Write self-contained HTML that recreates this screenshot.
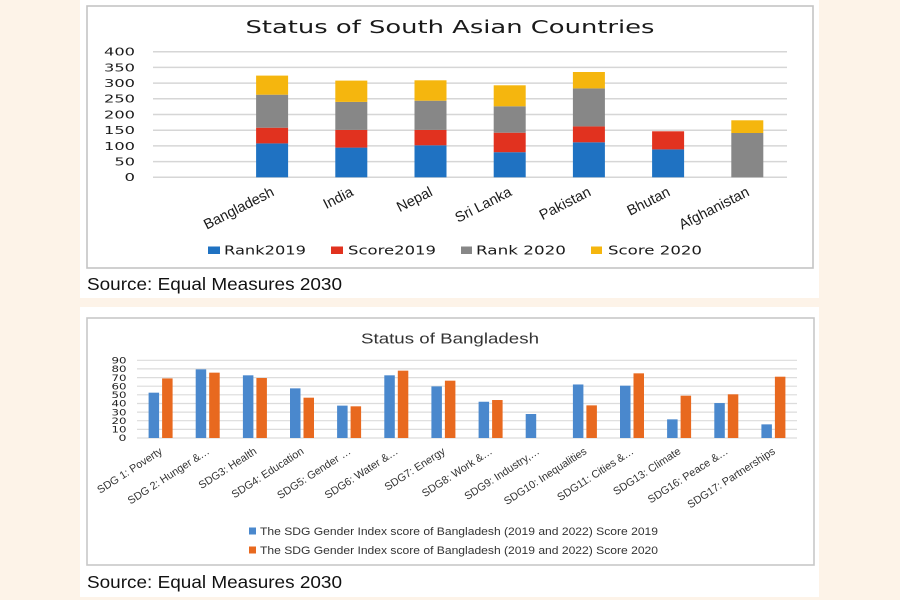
<!DOCTYPE html>
<html>
<head>
<meta charset="utf-8">
<style>
html,body{margin:0;padding:0;background:#fdf3e8;}
svg{display:block;}
</style>
</head>
<body>
<svg width="900" height="600" viewBox="0 0 900 600" xmlns="http://www.w3.org/2000/svg">
  <rect x="0" y="0" width="900" height="600" fill="#fdf3e8"/>
  <!-- cards -->
  <rect x="80" y="0" width="739" height="298" fill="#ffffff"/>
  <rect x="80" y="307" width="739" height="290" fill="#ffffff"/>

  <!-- ============ TOP CHART ============ -->
  <rect x="87" y="6" width="726" height="262" fill="#ffffff" stroke="#c4c4c4" stroke-width="1.6"/>
  <text x="450" y="33" text-anchor="middle" font-family="DejaVu Sans, sans-serif" font-size="17.5" fill="#1a1a1a" textLength="409" lengthAdjust="spacingAndGlyphs">Status of South Asian Countries</text>

  <g stroke="#d6d6d6" stroke-width="1.5">
    <line x1="153" y1="177.3" x2="787" y2="177.3"/>
    <line x1="153" y1="161.6" x2="787" y2="161.6"/>
    <line x1="153" y1="145.9" x2="787" y2="145.9"/>
    <line x1="153" y1="130.2" x2="787" y2="130.2"/>
    <line x1="153" y1="114.5" x2="787" y2="114.5"/>
    <line x1="153" y1="98.8" x2="787" y2="98.8"/>
    <line x1="153" y1="83.1" x2="787" y2="83.1"/>
    <line x1="153" y1="67.4" x2="787" y2="67.4"/>
    <line x1="153" y1="51.7" x2="787" y2="51.7"/>
  </g>
  <g font-family="DejaVu Sans, sans-serif" font-size="10.5" fill="#1a1a1a" text-anchor="end">
    <text x="135" y="181.2" textLength="10.5" lengthAdjust="spacingAndGlyphs">0</text>
    <text x="135" y="165.5" textLength="20.5" lengthAdjust="spacingAndGlyphs">50</text>
    <text x="135" y="149.8" textLength="31" lengthAdjust="spacingAndGlyphs">100</text>
    <text x="135" y="134.1" textLength="31" lengthAdjust="spacingAndGlyphs">150</text>
    <text x="135" y="118.4" textLength="31" lengthAdjust="spacingAndGlyphs">200</text>
    <text x="135" y="102.7" textLength="31" lengthAdjust="spacingAndGlyphs">250</text>
    <text x="135" y="87.0" textLength="31" lengthAdjust="spacingAndGlyphs">300</text>
    <text x="135" y="71.3" textLength="31" lengthAdjust="spacingAndGlyphs">350</text>
    <text x="135" y="55.6" textLength="31" lengthAdjust="spacingAndGlyphs">400</text>
  </g>

  <!-- stacked bars -->
  <g>
    <!-- Bangladesh c=272.1 -->
    <rect x="256.1" y="143.4" width="32" height="33.9" fill="#1f72c2"/>
    <rect x="256.1" y="127.7" width="32" height="15.7" fill="#e1321f"/>
    <rect x="256.1" y="94.7" width="32" height="33.0" fill="#878787"/>
    <rect x="256.1" y="75.6" width="32" height="19.1" fill="#f5b60e"/>
    <!-- India c=351.3 -->
    <rect x="335.3" y="147.6" width="32" height="29.7" fill="#1f72c2"/>
    <rect x="335.3" y="129.9" width="32" height="17.7" fill="#e1321f"/>
    <rect x="335.3" y="101.9" width="32" height="28.0" fill="#878787"/>
    <rect x="335.3" y="80.6" width="32" height="21.3" fill="#f5b60e"/>
    <!-- Nepal c=430.5 -->
    <rect x="414.5" y="145.3" width="32" height="32.0" fill="#1f72c2"/>
    <rect x="414.5" y="129.9" width="32" height="15.4" fill="#e1321f"/>
    <rect x="414.5" y="100.7" width="32" height="29.2" fill="#878787"/>
    <rect x="414.5" y="80.3" width="32" height="20.4" fill="#f5b60e"/>
    <!-- Sri Lanka c=509.7 -->
    <rect x="493.7" y="152.2" width="32" height="25.1" fill="#1f72c2"/>
    <rect x="493.7" y="132.7" width="32" height="19.5" fill="#e1321f"/>
    <rect x="493.7" y="106.3" width="32" height="26.4" fill="#878787"/>
    <rect x="493.7" y="85.3" width="32" height="21.0" fill="#f5b60e"/>
    <!-- Pakistan c=588.9 -->
    <rect x="572.9" y="142.3" width="32" height="35.0" fill="#1f72c2"/>
    <rect x="572.9" y="126.4" width="32" height="15.9" fill="#e1321f"/>
    <rect x="572.9" y="88.4" width="32" height="38.0" fill="#878787"/>
    <rect x="572.9" y="72.0" width="32" height="16.4" fill="#f5b60e"/>
    <!-- Bhutan c=668.1 -->
    <rect x="652.1" y="149.4" width="32" height="27.9" fill="#1f72c2"/>
    <rect x="652.1" y="131.3" width="32" height="18.1" fill="#e1321f"/>
    <!-- Afghanistan c=747.3 -->
    <rect x="731.3" y="133.0" width="32" height="44.3" fill="#878787"/>
    <rect x="731.3" y="120.3" width="32" height="12.7" fill="#f5b60e"/>
  </g>

  <!-- top x labels -->
  <g font-family="Liberation Sans, sans-serif" font-size="14.5" fill="#1a1a1a" text-anchor="end">
    <text transform="translate(275,195) rotate(-27)">Bangladesh</text>
    <text transform="translate(354.3,195) rotate(-27)">India</text>
    <text transform="translate(433.5,195) rotate(-27)">Nepal</text>
    <text transform="translate(512.7,195) rotate(-27)">Sri Lanka</text>
    <text transform="translate(591.9,195) rotate(-27)">Pakistan</text>
    <text transform="translate(671.1,195) rotate(-27)">Bhutan</text>
    <text transform="translate(750.3,195) rotate(-27)">Afghanistan</text>
  </g>

  <!-- top legend -->
  <g font-family="DejaVu Sans, sans-serif" font-size="12" fill="#1a1a1a">
    <rect x="208" y="246.5" width="12" height="7.5" fill="#1f72c2"/>
    <text x="224" y="254.5" textLength="82" lengthAdjust="spacingAndGlyphs">Rank2019</text>
    <rect x="331" y="246.5" width="12" height="7.5" fill="#e1321f"/>
    <text x="348" y="254.5" textLength="88" lengthAdjust="spacingAndGlyphs">Score2019</text>
    <rect x="461" y="246.5" width="11" height="7.5" fill="#878787"/>
    <text x="476" y="254.5" textLength="90" lengthAdjust="spacingAndGlyphs">Rank 2020</text>
    <rect x="591" y="246.5" width="11" height="7.5" fill="#f5b60e"/>
    <text x="608" y="254.5" textLength="94" lengthAdjust="spacingAndGlyphs">Score 2020</text>
  </g>

  <text x="87" y="290" font-family="Liberation Sans, sans-serif" font-size="17.5" fill="#111" textLength="255" lengthAdjust="spacingAndGlyphs">Source: Equal Measures 2030</text>

  <!-- ============ BOTTOM CHART ============ -->
  <rect x="87" y="318" width="727" height="247" fill="#ffffff" stroke="#c8c8c8" stroke-width="1.6"/>
  <text x="450" y="343.3" text-anchor="middle" font-family="Liberation Sans, sans-serif" font-size="15" fill="#333" textLength="178" lengthAdjust="spacingAndGlyphs">Status of Bangladesh</text>

  <g stroke="#dcdcdc" stroke-width="1.2">
    <line x1="137" y1="438" x2="797" y2="438"/>
    <line x1="137" y1="429.4" x2="797" y2="429.4"/>
    <line x1="137" y1="420.7" x2="797" y2="420.7"/>
    <line x1="137" y1="412.1" x2="797" y2="412.1"/>
    <line x1="137" y1="403.5" x2="797" y2="403.5"/>
    <line x1="137" y1="394.8" x2="797" y2="394.8"/>
    <line x1="137" y1="386.2" x2="797" y2="386.2"/>
    <line x1="137" y1="377.6" x2="797" y2="377.6"/>
    <line x1="137" y1="368.9" x2="797" y2="368.9"/>
    <line x1="137" y1="360.3" x2="797" y2="360.3"/>
  </g>
  <g font-family="DejaVu Sans, sans-serif" font-size="9" fill="#222" text-anchor="end">
    <text x="126.5" y="441.2" textLength="8" lengthAdjust="spacingAndGlyphs">0</text>
    <text x="126.5" y="432.6" textLength="15" lengthAdjust="spacingAndGlyphs">10</text>
    <text x="126.5" y="423.9" textLength="15" lengthAdjust="spacingAndGlyphs">20</text>
    <text x="126.5" y="415.3" textLength="15" lengthAdjust="spacingAndGlyphs">30</text>
    <text x="126.5" y="406.7" textLength="15" lengthAdjust="spacingAndGlyphs">40</text>
    <text x="126.5" y="398.0" textLength="15" lengthAdjust="spacingAndGlyphs">50</text>
    <text x="126.5" y="389.4" textLength="15" lengthAdjust="spacingAndGlyphs">60</text>
    <text x="126.5" y="380.8" textLength="15" lengthAdjust="spacingAndGlyphs">70</text>
    <text x="126.5" y="372.1" textLength="15" lengthAdjust="spacingAndGlyphs">80</text>
    <text x="126.5" y="363.5" textLength="15" lengthAdjust="spacingAndGlyphs">90</text>
  </g>

  <!-- grouped bars: y-flipped coordinate system -->
  <g transform="translate(0,438) scale(1,-0.8633)">
    <g fill="#4a88cd">
      <rect x="148.6" y="0" width="10.5" height="52.5"/>
      <rect x="195.7" y="0" width="10.5" height="79.5"/>
      <rect x="242.9" y="0" width="10.5" height="72.6"/>
      <rect x="290.0" y="0" width="10.5" height="57.5"/>
      <rect x="337.1" y="0" width="10.5" height="37.5"/>
      <rect x="384.3" y="0" width="10.5" height="72.6"/>
      <rect x="431.4" y="0" width="10.5" height="59.8"/>
      <rect x="478.6" y="0" width="10.5" height="42"/>
      <rect x="525.7" y="0" width="10.5" height="27.8"/>
      <rect x="572.9" y="0" width="10.5" height="62"/>
      <rect x="620.0" y="0" width="10.5" height="60.6"/>
      <rect x="667.1" y="0" width="10.5" height="21.6"/>
      <rect x="714.3" y="0" width="10.5" height="40.5"/>
      <rect x="761.4" y="0" width="10.5" height="15.8"/>
    </g>
    <g fill="#e8691f">
      <rect x="162.1" y="0" width="10.5" height="69"/>
      <rect x="209.2" y="0" width="10.5" height="75.7"/>
      <rect x="256.4" y="0" width="10.5" height="69.5"/>
      <rect x="303.5" y="0" width="10.5" height="46.7"/>
      <rect x="350.6" y="0" width="10.5" height="36.7"/>
      <rect x="397.8" y="0" width="10.5" height="78"/>
      <rect x="444.9" y="0" width="10.5" height="66.4"/>
      <rect x="492.1" y="0" width="10.5" height="44"/>
      <rect x="586.4" y="0" width="10.5" height="37.8"/>
      <rect x="633.5" y="0" width="10.5" height="74.9"/>
      <rect x="680.6" y="0" width="10.5" height="49"/>
      <rect x="727.8" y="0" width="10.5" height="50.6"/>
      <rect x="774.9" y="0" width="10.5" height="71"/>
    </g>
  </g>

  <!-- bottom x labels -->
  <g font-family="Liberation Sans, sans-serif" font-size="10.8" fill="#333" text-anchor="end">
    <text transform="translate(163.1,453) rotate(-33)">SDG 1: Poverty</text>
    <text transform="translate(210.2,453) rotate(-33)">SDG 2: Hunger &amp;…</text>
    <text transform="translate(257.4,453) rotate(-33)">SDG3: Health</text>
    <text transform="translate(304.5,453) rotate(-33)">SDG4: Education</text>
    <text transform="translate(351.6,453) rotate(-33)">SDG5: Gender …</text>
    <text transform="translate(398.8,453) rotate(-33)">SDG6: Water &amp;…</text>
    <text transform="translate(445.9,453) rotate(-33)">SDG7: Energy</text>
    <text transform="translate(493.1,453) rotate(-33)">SDG8: Work &amp;…</text>
    <text transform="translate(540.2,453) rotate(-33)">SDG9: Industry,…</text>
    <text transform="translate(587.4,453) rotate(-33)">SDG10: Inequalities</text>
    <text transform="translate(634.5,453) rotate(-33)">SDG11: Cities &amp;…</text>
    <text transform="translate(681.6,453) rotate(-33)">SDG13: Climate</text>
    <text transform="translate(728.8,453) rotate(-33)">SDG16: Peace &amp;…</text>
    <text transform="translate(775.9,453) rotate(-33)">SDG17: Partnerships</text>
  </g>

  <!-- bottom legend -->
  <g font-family="Liberation Sans, sans-serif" font-size="11" fill="#333">
    <rect x="249" y="527.5" width="7" height="7" fill="#4a88cd"/>
    <text x="260" y="535" textLength="398" lengthAdjust="spacingAndGlyphs">The SDG Gender Index score of Bangladesh (2019 and 2022) Score 2019</text>
    <rect x="249" y="546.5" width="7" height="7" fill="#e8691f"/>
    <text x="260" y="554" textLength="398" lengthAdjust="spacingAndGlyphs">The SDG Gender Index score of Bangladesh (2019 and 2022) Score 2020</text>
  </g>

  <text x="87" y="588" font-family="Liberation Sans, sans-serif" font-size="17.5" fill="#111" textLength="255" lengthAdjust="spacingAndGlyphs">Source: Equal Measures 2030</text>
</svg>
</body>
</html>
